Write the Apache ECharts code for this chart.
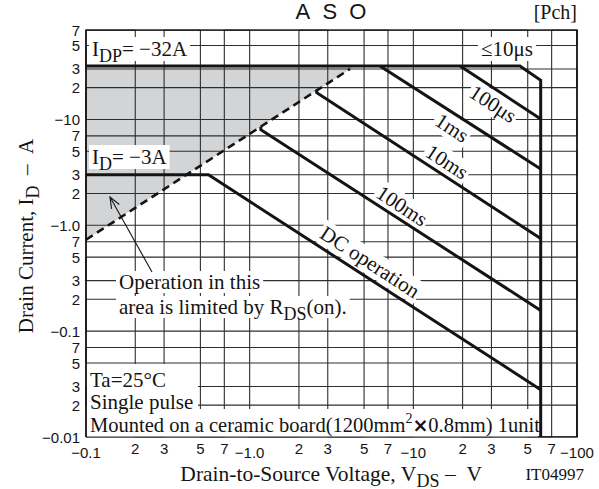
<!DOCTYPE html>
<html>
<head>
<meta charset="utf-8">
<script src="https://cdn.jsdelivr.net/npm/echarts@6/dist/echarts.min.js"></script>
<style>
  html, body { margin: 0; padding: 0; background: #fff; }
  #chart { width: 599px; height: 489px; }
</style>
</head>
<body>
<div id="chart"></div>
<script>
// Grid positions (magnitudes) and the labels printed at them
const xTickValues = [0.1, 0.2, 0.3, 0.5, 0.7, 1, 2, 3, 5, 7, 10, 20, 30, 50, 70, 100];
const xTickLabels = ['−0.1', '2', '3', '5', '7', '−1.0', '2', '3', '5', '7', '−10', '2', '3', '5', '7', '−100'];
const yTickValues = [0.01, 0.02, 0.03, 0.05, 0.07, 0.1, 0.2, 0.3, 0.5, 0.7, 1, 2, 3, 5, 7, 10, 20, 30, 50, 70];
const yTickLabels = ['−0.01', '2', '3', '5', '7', '−0.1', '2', '3', '5', '7', '−1.0', '2', '3', '5', '7', '−10', '2', '3', '5', '7'];

// Safe operating area boundaries as [|VDS| in V, |ID| in A]
const idpPulseLimit = [[0.1, 32], [44.8, 32], [60, 23.5], [60, 0.01]];
const pulse100us = [[19.3, 32], [60, 10.1]];
const pulse1ms = [[6.25, 32], [60, 3.4]];
const pulse10ms = [[2.57, 18.8], [2.57, 17.9], [60, 0.75]];
const pulse100ms = [[1.17, 8.5], [1.17, 8.0], [60, 0.157]];
const dcOperation = [[0.1, 3], [0.56, 3], [60, 0.028]];
const rdsOnLimit = [[0.1, 0.73], [4.1, 30]];
const rdsOnRegion = [[0.1, 0.73], [0.1, 32], [4.38, 32]];

const SANS = "'Liberation Sans', Arial, sans-serif";
const SERIF = "'Liberation Serif', 'Times New Roman', serif";
const INK = '#141414';
const GRID_INK = '#2e2e2e';

function labelFor(values, labels, v) {
  let best = 0, bd = Infinity;
  values.forEach((t, i) => {
    const d = Math.abs(Math.log10(t) - Math.log10(v));
    if (d < bd) { bd = d; best = i; }
  });
  return labels[best];
}

const chart = echarts.init(document.getElementById('chart'), null, { renderer: 'svg' });

// subscript / superscript / multiplication-sign styles for serif annotations
function serifRich(lh) {
  return {
    sub: { font: '18px ' + SERIF, fontFamily: SERIF, fontSize: 18, lineHeight: lh, padding: [13, 0, 0, 0], fill: INK },
    sup: { font: '14px ' + SERIF, fontFamily: SERIF, fontSize: 14, lineHeight: lh, padding: [0, 0, 12, 0], fill: INK },
    cross: { font: "bold 19px 'DejaVu Sans', sans-serif", fontFamily: "'DejaVu Sans', sans-serif", fontWeight: 'bold', fontSize: 19, lineHeight: lh, fill: INK }
  };
}

// drawing order: shading < grid < frame < white annotation boxes < texts < boundary curves
const Z_SHADE = 2, Z_GRID = 7, Z_FRAME = 9, Z_BOX = 10, Z_TEXT = 11, Z_CURVE = 12;

function text(x, y, str, o = {}) {
  const size = o.size || 21;
  const family = o.family || SERIF;
  const lh = o.lh || 24;
  return {
    type: 'text', x, y, z: Z_TEXT, rotation: o.rot || 0, silent: true,
    style: Object.assign({
      legacy: false,
      text: str, font: size + 'px ' + family, fontFamily: family, fontSize: size, fill: INK,
      align: o.align || 'left',
      verticalAlign: 'middle',
      lineHeight: lh, rich: serifRich(lh)
    }, o.bg ? { backgroundColor: '#fff', padding: o.pad || [0, 3] } : {})
  };
}

const lineDeg = -33 * Math.PI / 180;

// arrow pointing into the RDS(on)-limited region
const arrowTail = [152, 272], arrowTip = [110, 197];
const adx = arrowTail[0] - arrowTip[0], ady = arrowTail[1] - arrowTip[1];
const alen = Math.hypot(adx, ady), ux = adx / alen, uy = ady / alen;
function rot(a, len) {
  const c = Math.cos(a), s = Math.sin(a);
  return [arrowTip[0] + len * (ux * c - uy * s), arrowTip[1] + len * (ux * s + uy * c)];
}

const graphics = [
  text(331, 11, 'A\u00A0\u00A0S\u00A0\u00A0O', { family: SANS, size: 22, align: 'center' }),
  text(577, 12, '[Pch]', { size: 20, align: 'right' }),
  text(89, 49, 'I{sub|DP}= −32A', { bg: true }),
  text(507, 49, '≤10μs', { bg: true, align: 'center' }),
  text(89, 157, 'I{sub|D}= −3A', { bg: true }),
  text(493, 104, '100μs', { bg: true, align: 'center', rot: lineDeg, pad: [0, 2] }),
  text(452, 128, '1ms', { bg: true, align: 'center', rot: lineDeg, pad: [0, 2] }),
  text(447, 162, '10ms', { bg: true, align: 'center', rot: lineDeg, pad: [0, 2] }),
  text(402, 206, '100ms', { bg: true, align: 'center', rot: lineDeg, pad: [0, 2] }),
  text(370, 262, 'DC operation', { bg: true, align: 'center', rot: lineDeg, pad: [0, 2] }),
  text(116, 282, 'Operation in this', { bg: true, pad: [0, 3], lh: 22 }),
  text(116, 307, 'area is limited by R{sub|DS}(on).', { bg: true, pad: [0, 3], lh: 22 }),
  { type: 'line', z: Z_TEXT, silent: true, shape: { x1: arrowTail[0], y1: arrowTail[1], x2: arrowTip[0], y2: arrowTip[1] }, style: { stroke: INK, lineWidth: 1.1 } },
  { type: 'polyline', z: Z_TEXT, silent: true, shape: { points: [rot(0.38, 12), arrowTip, rot(-0.38, 12)] }, style: { stroke: INK, lineWidth: 1.1, fill: null } },
  { type: 'rect', z: Z_BOX, silent: true, shape: { x: 87, y: 364, width: 111, height: 44 }, style: { fill: '#fff' } },
  { type: 'rect', z: Z_BOX, silent: true, shape: { x: 87, y: 409, width: 451, height: 27.5 }, style: { fill: '#fff' } },
  text(90, 391, 'Ta=25°C\nSingle pulse', { lh: 22 }),
  text(90, 424.5, 'Mounted on a ceramic board(1200mm{sup|2}{cross|×}0.8mm) 1unit', { size: 20.5, lh: 19 }),
  text(331, 474, 'Drain-to-Source Voltage, V{sub|DS}\u00A0–\u00A0\u00A0V', { align: 'center', size: 21.5, lh: 22 }),
  text(584, 474, 'IT04997', { align: 'right', size: 17, lh: 20 }),
  text(26, 236, 'Drain Current, I{sub|D}\u00A0\u00A0–\u00A0\u00A0A', { align: 'center', rot: Math.PI / 2 })
];

function boundary(data, extra) {
  return Object.assign({
    type: 'line', data, symbol: 'none', silent: true, z: Z_CURVE,
    lineStyle: { color: INK, width: 3, join: 'miter', cap: 'butt' }
  }, extra || {});
}

// 1-2-3-5-7 grid: each family is one serpentine polyline that runs along a tick,
// then steps along the plot frame to the next tick
const yLo = yTickValues[0], yHi = yTickValues[yTickValues.length - 1];
const xLo = xTickValues[0], xHi = xTickValues[xTickValues.length - 1];
const plotFrame = [[xLo, yLo], [xHi, yLo], [xHi, yHi], [xLo, yHi], [xLo, yLo]];

const verticalGrid = [];
xTickValues.forEach((v, i) => {
  if (i % 2 === 0) verticalGrid.push([v, yLo], [v, yHi]);
  else verticalGrid.push([v, yHi], [v, yLo]);
});
const horizontalGrid = [];
yTickValues.forEach((v, i) => {
  if (i % 2 === 0) horizontalGrid.push([xLo, v], [xHi, v]);
  else horizontalGrid.push([xHi, v], [xLo, v]);
});

function gridSeries(data) {
  return boundary(data, { z: Z_GRID, lineStyle: { color: GRID_INK, width: 1.1, join: 'miter' } });
}

const axisCommon = {
  type: 'log', logBase: 10,
  axisLine: { show: false },
  axisTick: { show: false },
  splitLine: { show: false },
  minorTick: { show: false }, minorSplitLine: { show: false }
};

chart.setOption({
  animation: false,
  grid: { left: 86, right: 22, top: 30, bottom: 52, show: false },
  xAxis: Object.assign({}, axisCommon, {
    min: 0.1, max: 100,
    axisLabel: {
      customValues: xTickValues, margin: 4, color: INK, fontFamily: SANS, fontSize: 15,
      formatter: (v) => {
        const s = labelFor(xTickValues, xTickLabels, v);
        return s.charAt(0) === '−' ? '{d|' + s + '}' : s;
      },
      rich: { d: { fontFamily: SANS, fontSize: 15, color: INK, padding: [4, 0, 0, 0] } }
    }
  }),
  yAxis: Object.assign({}, axisCommon, {
    min: 0.01, max: 70,
    axisLabel: {
      customValues: yTickValues, margin: 6, color: INK, fontFamily: SANS, fontSize: 15,
      formatter: (v) => labelFor(yTickValues, yTickLabels, v)
    }
  }),
  graphic: graphics,
  series: [
    {
      type: 'custom', z: Z_SHADE, silent: true, data: [[1, 1]],
      renderItem: (params, api) => ({
        type: 'polygon',
        shape: { points: rdsOnRegion.map(p => api.coord(p)) },
        style: { fill: '#d3d4d6' }
      })
    },
    gridSeries(verticalGrid),
    gridSeries(horizontalGrid),
    boundary(plotFrame, { z: Z_FRAME, lineStyle: { color: '#111', width: 1.6, join: 'miter' } }),
    boundary(idpPulseLimit),
    boundary(pulse100us),
    boundary(pulse1ms),
    boundary(pulse10ms),
    boundary(pulse100ms),
    boundary(dcOperation),
    boundary(rdsOnLimit, { lineStyle: { color: INK, width: 2.6, type: [8, 5], cap: 'butt' } })
  ]
});
</script>
</body>
</html>
